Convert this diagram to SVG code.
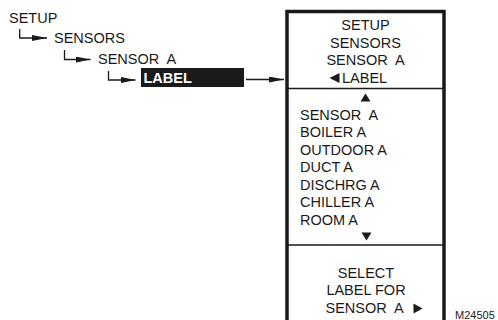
<svg xmlns="http://www.w3.org/2000/svg" width="498" height="320" viewBox="0 0 498 320">
<style>
text{font-family:"Liberation Sans",Arial,sans-serif;font-size:14.5px;fill:#1a1a1a}
.c{text-anchor:middle}
.pre{white-space:pre}
.ln{stroke:#1a1a1a;stroke-width:1.3;fill:none}
.tri{fill:#1a1a1a}
</style>
<defs>
<marker id="ah" viewBox="0 0 15 6" refX="15" refY="3" markerWidth="15" markerHeight="6" markerUnits="userSpaceOnUse" orient="auto">
<path d="M0,0 L15,3 L0,6 Z" fill="#1a1a1a"/>
</marker>
</defs>
<g id="menu-tree">
<g id="n-setup"><text x="9" y="23">SETUP</text></g>
<g id="n-sensors"><text x="54" y="43">SENSORS</text></g>
<g id="n-sensora"><text x="98" y="63.5" class="pre">SENSOR  A</text></g>
<g id="n-label">
<rect x="141" y="68" width="103" height="19" fill="#1a1a1a"/>
<text x="143.5" y="82.5" style="fill:#fff;font-weight:bold">LABEL</text>
</g>
</g>
<g id="display">
<rect x="287" y="11.5" width="157" height="320" fill="none" stroke="#1a1a1a" stroke-width="3.5"/>
<line x1="288" y1="88.5" x2="443" y2="88.5" stroke="#1a1a1a" stroke-width="1.5"/>
<line x1="288" y1="245" x2="443" y2="245" stroke="#1a1a1a" stroke-width="1.5"/>
<text x="365.5" y="30" class="c">SETUP</text>
<text x="365.5" y="47.5" class="c">SENSORS</text>
<text x="365.5" y="65" class="c pre">SENSOR  A</text>
<path class="tri" d="M329.5,78 L339.5,73 L339.5,83 Z"/>
<text x="342" y="82.5">LABEL</text>
<path class="tri" d="M365.5,93.5 L370.5,101.5 L360.5,101.5 Z"/>
<text x="300" y="120" class="pre">SENSOR  A</text>
<text x="300" y="137">BOILER A</text>
<text x="300" y="154.5">OUTDOOR A</text>
<text x="300" y="172">DUCT A</text>
<text x="300" y="189.5">DISCHRG A</text>
<text x="300" y="207">CHILLER A</text>
<text x="300" y="224.5">ROOM A</text>
<path class="tri" d="M361.5,232.5 L371.5,232.5 L366.5,240.5 Z"/>
<text x="366" y="277.5" class="c">SELECT</text>
<text x="366" y="295" class="c">LABEL FOR</text>
<text x="325.5" y="313" class="pre">SENSOR  A</text>
<path class="tri" d="M413.5,303.5 L422.5,308.5 L413.5,313.5 Z"/>
</g>
<g id="connectors">
<path class="ln" d="M19.7,29 V38 H47" marker-end="url(#ah)"/>
<path class="ln" d="M64.5,50 V59.5 H90.5" marker-end="url(#ah)"/>
<path class="ln" d="M108.5,71 V80 H135.5" marker-end="url(#ah)"/>
<path class="ln" d="M246,79.5 H284" marker-end="url(#ah)"/>
</g>
<text x="455" y="319" style="font-size:11px">M24505</text>
</svg>
